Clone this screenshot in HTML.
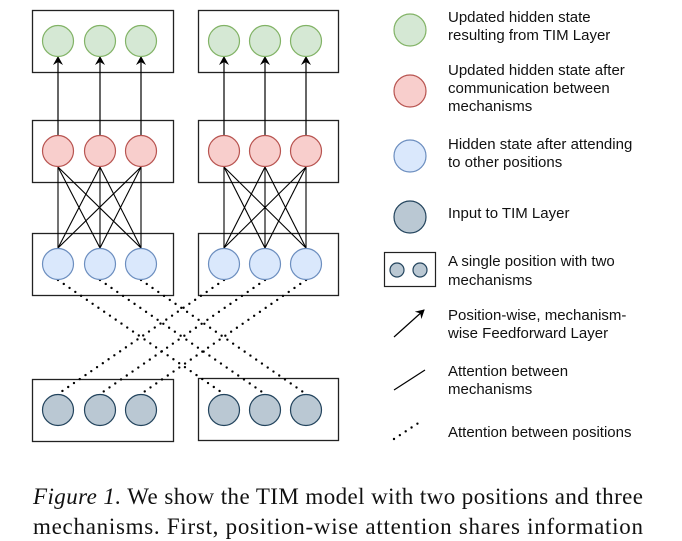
<!DOCTYPE html>
<html><head><meta charset="utf-8"><style>
html,body{margin:0;padding:0;background:#fff;}
svg{display:block;}
text{font-family:"Liberation Sans",sans-serif;font-size:15px;fill:#111;}
.cap{font-family:"Liberation Serif",serif;font-size:23px;fill:#111;}
</style></head><body>
<svg width="682" height="541" viewBox="0 0 682 541" xmlns="http://www.w3.org/2000/svg">
<defs>
<marker id="ah" markerWidth="10" markerHeight="10" refX="8" refY="5" orient="auto" markerUnits="userSpaceOnUse">
<path d="M0,0 L9,5 L0,10 L3,5 z" fill="#000"/>
</marker>
</defs>
<g fill="none" stroke="#222" stroke-width="1.3">
<rect x="32.5" y="10.5" width="141" height="62"/>
<rect x="198.5" y="10.5" width="140" height="62"/>
<rect x="32.5" y="120.5" width="141" height="62"/>
<rect x="198.5" y="120.5" width="140" height="62"/>
<rect x="32.5" y="233.5" width="141" height="62"/>
<rect x="198.5" y="233.5" width="140" height="62"/>
<rect x="32.5" y="379.5" width="141" height="62"/>
<rect x="198.5" y="378.5" width="140" height="62"/>
</g>
<g stroke="#000" stroke-width="1.2" marker-end="url(#ah)">
<line x1="58" y1="135" x2="58" y2="57"/><line x1="100" y1="135" x2="100" y2="57"/><line x1="141" y1="135" x2="141" y2="57"/>
<line x1="224" y1="135" x2="224" y2="57"/><line x1="265" y1="135" x2="265" y2="57"/><line x1="306" y1="135" x2="306" y2="57"/>
</g>
<g stroke="#000" stroke-width="1.1">
<line x1="58" y1="167" x2="58" y2="248"/><line x1="58" y1="167" x2="100" y2="248"/><line x1="58" y1="167" x2="141" y2="248"/>
<line x1="100" y1="167" x2="58" y2="248"/><line x1="100" y1="167" x2="100" y2="248"/><line x1="100" y1="167" x2="141" y2="248"/>
<line x1="141" y1="167" x2="58" y2="248"/><line x1="141" y1="167" x2="100" y2="248"/><line x1="141" y1="167" x2="141" y2="248"/>
<line x1="224" y1="167" x2="224" y2="248"/><line x1="224" y1="167" x2="265" y2="248"/><line x1="224" y1="167" x2="306" y2="248"/>
<line x1="265" y1="167" x2="224" y2="248"/><line x1="265" y1="167" x2="265" y2="248"/><line x1="265" y1="167" x2="306" y2="248"/>
<line x1="306" y1="167" x2="224" y2="248"/><line x1="306" y1="167" x2="265" y2="248"/><line x1="306" y1="167" x2="306" y2="248"/>
</g>
<g stroke="#000" stroke-width="2.4" stroke-linecap="round" stroke-dasharray="0 7">
<line x1="58" y1="280" x2="224" y2="394"/><line x1="100" y1="280" x2="265" y2="394"/><line x1="141" y1="280" x2="306" y2="394"/>
<line x1="224" y1="280" x2="58" y2="394"/><line x1="265" y1="280" x2="100" y2="394"/><line x1="306" y1="280" x2="141" y2="394"/>
</g>
<g stroke="#82b366" fill="#d5e8d4" stroke-width="1.2">
<circle cx="58" cy="41" r="15.5"/><circle cx="100" cy="41" r="15.5"/><circle cx="141" cy="41" r="15.5"/>
<circle cx="224" cy="41" r="15.5"/><circle cx="265" cy="41" r="15.5"/><circle cx="306" cy="41" r="15.5"/>
<circle cx="410" cy="30" r="16"/>
</g>
<g stroke="#b85450" fill="#f8cecc" stroke-width="1.2">
<circle cx="58" cy="151" r="15.5"/><circle cx="100" cy="151" r="15.5"/><circle cx="141" cy="151" r="15.5"/>
<circle cx="224" cy="151" r="15.5"/><circle cx="265" cy="151" r="15.5"/><circle cx="306" cy="151" r="15.5"/>
<circle cx="410" cy="91" r="16"/>
</g>
<g stroke="#6c8ebf" fill="#dae8fc" stroke-width="1.2">
<circle cx="58" cy="264" r="15.5"/><circle cx="100" cy="264" r="15.5"/><circle cx="141" cy="264" r="15.5"/>
<circle cx="224" cy="264" r="15.5"/><circle cx="265" cy="264" r="15.5"/><circle cx="306" cy="264" r="15.5"/>
<circle cx="410" cy="156" r="16"/>
</g>
<g stroke="#23445d" fill="#bac8d3" stroke-width="1.2">
<circle cx="58" cy="410" r="15.5"/><circle cx="100" cy="410" r="15.5"/><circle cx="141" cy="410" r="15.5"/>
<circle cx="224" cy="410" r="15.5"/><circle cx="265" cy="410" r="15.5"/><circle cx="306" cy="410" r="15.5"/>
<circle cx="410" cy="217" r="16"/>
<circle cx="397" cy="270" r="7"/><circle cx="420" cy="270" r="7"/>
</g>
<rect x="384.5" y="252.5" width="51" height="34" fill="none" stroke="#222" stroke-width="1.2"/>
<line x1="394" y1="337" x2="424" y2="310" stroke="#000" stroke-width="1.2" marker-end="url(#ah)"/>
<line x1="394" y1="390" x2="425" y2="370" stroke="#000" stroke-width="1.2"/>
<line x1="394" y1="439" x2="423" y2="420" stroke="#000" stroke-width="2.4" stroke-linecap="round" stroke-dasharray="0 7"/>
<text x="448" y="22">Updated hidden state</text>
<text x="448" y="40">resulting from TIM Layer</text>
<text x="448" y="75">Updated hidden state after</text>
<text x="448" y="93">communication between</text>
<text x="448" y="111">mechanisms</text>
<text x="448" y="149">Hidden state after attending</text>
<text x="448" y="167">to other positions</text>
<text x="448" y="218">Input to TIM Layer</text>
<text x="448" y="266">A single position with two</text>
<text x="448" y="285">mechanisms</text>
<text x="448" y="320">Position-wise, mechanism-</text>
<text x="448" y="338">wise Feedforward Layer</text>
<text x="448" y="376">Attention between</text>
<text x="448" y="394">mechanisms</text>
<text x="448" y="437">Attention between positions</text>
<text class="cap" x="33" y="504" textLength="610" lengthAdjust="spacing"><tspan font-style="italic">Figure 1.</tspan> We show the TIM model with two positions and three</text>
<text class="cap" x="33" y="534" textLength="610" lengthAdjust="spacing">mechanisms.  First, position-wise attention shares information</text>
</svg>
</body></html>
